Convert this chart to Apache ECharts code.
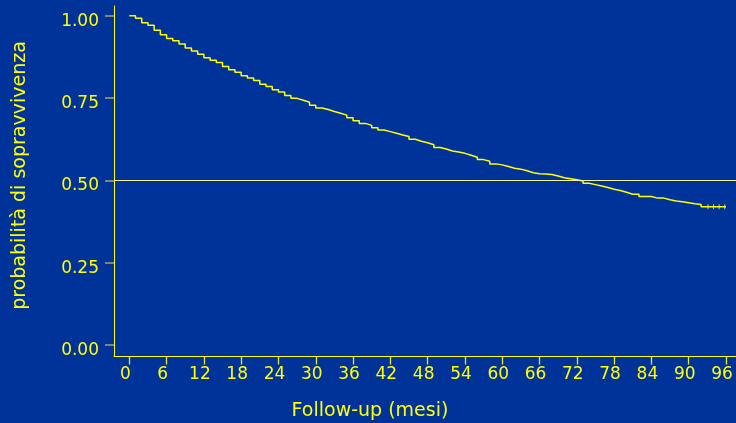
<!DOCTYPE html>
<html>
<head>
<meta charset="utf-8">
<script src="https://cdn.jsdelivr.net/npm/echarts@6/dist/echarts.min.js"></script>
<style>
  html, body { margin: 0; padding: 0; background: #003399; }
  #chart { width: 736px; height: 423px; }
</style>
</head>
<body>
<div id="chart"></div>
<script>
// Follow-up months at which the Kaplan-Meier curve steps
const months = [0,1,2,3,4,5,6,7,8,9,10,11,12,13,14,15,16,17,18,19,20,
  21,22,23,24,25,26,27,28,29,30,31,32,33,34,35,36,37,38,39,40,
  41,42,43,44,45,46,47,48,49,50,51,52,53,54,55,56,57,58,59,60,
  61,62,63,64,65,66,67,68,69,70,71,72,73,74,75,76,77,78,79,80,
  81,82,83,84,85,86,87,88,89,90,91,92,96];
// Survival probability after each step
const survival = [1.000,0.992,0.979,0.971,0.956,0.942,0.931,0.924,0.914,0.902,0.893,
  0.883,0.872,0.865,0.858,0.846,0.836,0.828,0.818,0.811,0.803,
  0.792,0.785,0.775,0.768,0.758,0.749,0.743,0.737,0.728,0.720,
  0.715,0.709,0.704,0.698,0.690,0.681,0.673,0.667,0.660,0.653,
  0.648,0.643,0.638,0.633,0.625,0.619,0.614,0.608,0.600,0.595,
  0.589,0.586,0.582,0.576,0.570,0.563,0.558,0.550,0.547,0.542,
  0.537,0.534,0.529,0.523,0.520,0.519,0.518,0.513,0.508,0.505,
  0.502,0.498,0.491,0.487,0.483,0.478,0.473,0.469,0.464,0.458,
  0.458,0.451,0.451,0.446,0.446,0.441,0.437,0.435,0.432,0.429,
  0.427,0.420,0.420];
// Censored observations on the final plateau
const censorMonths = [93.1, 94.0, 94.9, 95.8];
const censorSurvival = [0.420, 0.420, 0.420, 0.420];
// Reference level (median)
const medianLevel = 0.5;
// Tick labels
const xTicks = [0,6,12,18,24,30,36,42,48,54,60,66,72,78,84,90,96];
const yTicks = [0.00,0.25,0.50,0.75,1.00];
const xTitle = 'Follow-up (mesi)';
const yTitle = 'probabilità di sopravvivenza';

const YEL = '#ffff00';
const FONT = 'DejaVu Sans';
const X_MIN = -2.46, X_MAX = 97.61, Y_MIN = -0.035, Y_MAX = 1.0295;

const chart = echarts.init(document.getElementById('chart'), null, { renderer: 'canvas' });
chart.setOption({
  backgroundColor: '#003399',
  animation: false,
  grid: [
    // plotting frame (axis lines span the full frame)
    { left: 114, right: 0, top: 6, bottom: 66.5, containLabel: false, outerBoundsMode: 'none' },
    // tick/label frame: 0..96 months, 0..1 probability
    { left: 129.3, right: 10, top: 15.7, bottom: 78, containLabel: false, outerBoundsMode: 'none' }
  ],
  xAxis: [
    {
      gridIndex: 0, type: 'value', min: X_MIN, max: X_MAX,
      splitLine: { show: false },
      axisLine: { show: true, onZero: false, lineStyle: { color: YEL, width: 1 } },
      axisTick: { show: false }, axisLabel: { show: false }
    },
    {
      gridIndex: 1, type: 'value', min: xTicks[0], max: xTicks[xTicks.length - 1], interval: 6,
      offset: 11.5,
      splitLine: { show: false },
      axisLine: { show: false, onZero: false },
      axisTick: { show: true, length: 8, lineStyle: { color: '#e8e840', width: 1.3 } },
      axisLabel: {
        color: YEL, fontFamily: FONT, fontSize: 17, margin: 10,
        padding: [0, 8, 0, 0], showMinLabel: true, showMaxLabel: true,
        formatter: v => String(v)
      }
    }
  ],
  yAxis: [
    {
      gridIndex: 0, type: 'value', min: Y_MIN, max: Y_MAX,
      splitLine: { show: false },
      axisLine: { show: true, onZero: false, lineStyle: { color: YEL, width: 1 } },
      axisTick: { show: false }, axisLabel: { show: false }
    },
    {
      gridIndex: 1, type: 'value', min: yTicks[0], max: yTicks[yTicks.length - 1], interval: 0.25,
      offset: 15.3,
      splitLine: { show: false },
      axisLine: { show: false, onZero: false },
      axisTick: { show: true, length: 9, lineStyle: { color: '#a8a860', width: 1.5 } },
      axisLabel: {
        color: YEL, fontFamily: FONT, fontSize: 17, margin: 15,
        verticalAlign: 'top', lineHeight: 11,
        showMinLabel: true, showMaxLabel: true,
        formatter: v => v.toFixed(2)
      }
    }
  ],
  graphic: [
    { type: 'text', x: 370, y: 411.5, style: { text: xTitle, fill: YEL, font: '19px "DejaVu Sans"', textAlign: 'center', textVerticalAlign: 'middle' } },
    { type: 'text', x: 20, y: 175.5, rotation: Math.PI / 2, style: { text: yTitle, fill: YEL, font: '19px "DejaVu Sans"', textAlign: 'center', textVerticalAlign: 'middle' } }
  ],
  series: [
    {
      type: 'line',
      xAxisIndex: 0, yAxisIndex: 0,
      step: 'end',
      data: months.map((m, i) => [m, survival[i]]),
      showSymbol: false,
      lineStyle: { color: YEL, width: 1.5 },
      markLine: {
        silent: true,
        symbol: ['none', 'none'],
        label: { show: false },
        lineStyle: { color: '#f2f28a', width: 1, type: 'solid' },
        data: [{ yAxis: medianLevel }]
      }
    },
    {
      type: 'scatter',
      xAxisIndex: 0, yAxisIndex: 0,
      data: censorMonths.map((m, i) => [m, censorSurvival[i]]),
      symbol: 'rect',
      symbolSize: [1, 5],
      itemStyle: { color: '#f2f28a' }
    }
  ]
});
</script>
</body>
</html>
